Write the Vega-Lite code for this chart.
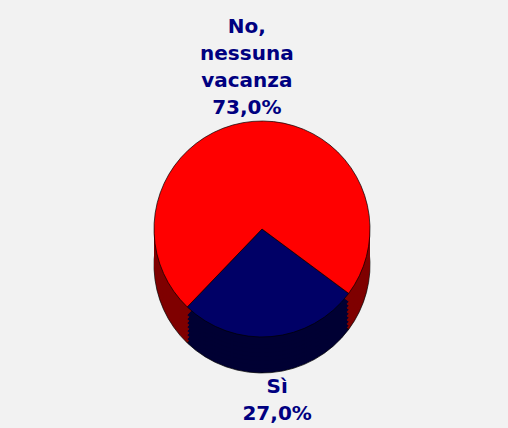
{
  "$schema": "https://vega.github.io/schema/vega-lite/v6.json",
  "width": 508,
  "height": 428,
  "autosize": {"type": "fit", "contains": "padding"},
  "padding": {"left": 16, "top": 36, "right": 0, "bottom": 0},
  "background": "#f2f2f2",
  "config": {"view": {"stroke": null}},
  "data": {
    "values": [
      {"risposta": "Sì", "valore": 27.0, "etichetta": "Sì\n27,0%"},
      {"risposta": "No, nessuna vacanza", "valore": 73.0, "etichetta": "No,\nnessuna\nvacanza\n73,0%"}
    ]
  },
  "encoding": {
    "theta": {"field": "valore", "type": "quantitative", "stack": true, "scale": {"range": [2.2096, 8.4928]}},
    "order": {"field": "valore", "sort": "ascending"},
    "color": {"field": "risposta", "type": "nominal", "scale": {"domain": ["Sì", "No, nessuna vacanza"], "range": ["#000033", "#7f0000"]}, "legend": null}
  },
  "layer": [
    {"mark": {"type": "arc", "radius": 108, "yOffset": 31, "stroke": "#000000", "strokeWidth": 0.7}},
    {"mark": {"type": "arc", "radius": 108, "yOffset": 27}},
    {"mark": {"type": "arc", "radius": 108, "yOffset": 23}},
    {"mark": {"type": "arc", "radius": 108, "yOffset": 19}},
    {"mark": {"type": "arc", "radius": 108, "yOffset": 15}},
    {"mark": {"type": "arc", "radius": 108, "yOffset": 11}},
    {"mark": {"type": "arc", "radius": 108, "yOffset": 7}},
    {"mark": {"type": "arc", "radius": 108, "yOffset": 3}},
    {
      "mark": {"type": "arc", "radius": 108, "yOffset": -5, "stroke": "#000000", "strokeWidth": 0.7},
      "encoding": {"fill": {"field": "risposta", "type": "nominal", "scale": {"domain": ["Sì", "No, nessuna vacanza"], "range": ["#000066", "#ff0000"]}, "legend": null}}
    },
    {
      "mark": {"type": "text", "radius": 181, "dy": -27, "font": "DejaVu Sans", "fontSize": 20, "fontWeight": "bold", "lineHeight": 27, "lineBreak": "\n", "fill": "#000080", "align": "center", "baseline": "middle"},
      "encoding": {"text": {"field": "etichetta", "type": "nominal"}}
    }
  ],
  "resolve": {"scale": {"fill": "independent"}}
}
